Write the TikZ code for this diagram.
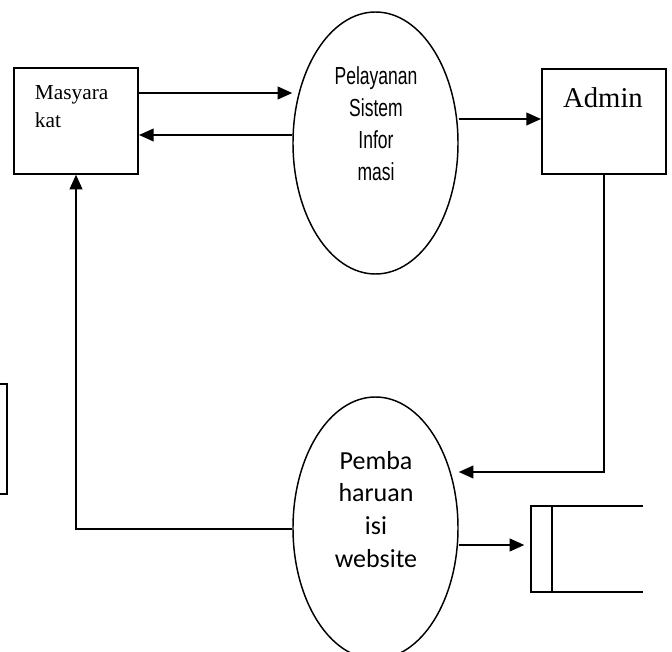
\documentclass[tikz,border=0pt]{standalone}
\usepackage{fontspec}
\setmainfont{Liberation Serif}
\newfontfamily\carlito{Carlito}
\newfontfamily\narrowsans[FakeStretch=0.71]{Liberation Sans}
\usetikzlibrary{arrows.meta,shapes.geometric}

\begin{document}
\begin{tikzpicture}[>={Triangle[length=11pt,width=9.5pt]}, x=0.75pt, y=-0.75pt, line width=1.5pt,
    box/.style={draw, rectangle, minimum width=93pt, minimum height=79pt},
    proc/.style={draw, ellipse, line width=1.1pt, inner sep=0pt, minimum width=123.75pt, minimum height=196.5pt}]
    \useasboundingbox (0,0) rectangle (672,652);
    % external entities
    \node (masy) [box] at (76,121) {};
    \node (masytxt) [anchor=north west, inner sep=0pt, align=left, font=\fontsize{16}{21}\selectfont] at (34,84.5) {Masyara\\kat};
    \node (admin) [box] at (604,121.5) {};
    \node (admintxt) [anchor=base, inner sep=0pt, font=\fontsize{21.5}{26}\selectfont] at (603,108) {Admin};
    % processes
    \node (proc1) [proc] at (375.5,143) {};
    \node (proc1txt) [anchor=north, inner sep=0pt, align=center, font=\narrowsans\fontsize{18.5}{24}\selectfont] at (376,65.3) {Pelayanan\\Sistem\\Infor\\masi};
    \node (proc2) [proc] at (375.5,528) {};
    \node (proc2txt) [anchor=north, inner sep=0pt, align=center, font=\carlito\fontsize{19.5}{24.5}\selectfont] at (376,450) {Pemba\\haruan\\isi\\website};
    % data store
    \node (store) [minimum width=82.5pt, minimum height=63pt, inner sep=0pt] at (587,549) {};
    \draw (store.north east) -- (store.north west) -- (store.south west) -- (store.south east);
    \draw ([xshift=15.75pt]store.north west) -- ([xshift=15.75pt]store.south west);
    % box cut at the left edge
    \draw (0,384) -- (7,384) -- (7,494) -- (0,494);
    % flows
    \draw [->] (masy.east |- 0,93) -- (proc1.west |- 0,93);
    \draw [->] (proc1.west |- 0,135) -- (masy.east |- 0,135);
    \draw [->] (proc1.east |- 0,119) -- (admin.west |- 0,119);
    \draw [->] (admin.south) |- (proc2.east |- 0,472);
    \draw [->, shorten >=5pt] (proc2.east |- 0,545) -- (store.west |- 0,545);
    \draw [->] (proc2.west |- 0,529) -| (masy.south);
\end{tikzpicture}
\end{document}
